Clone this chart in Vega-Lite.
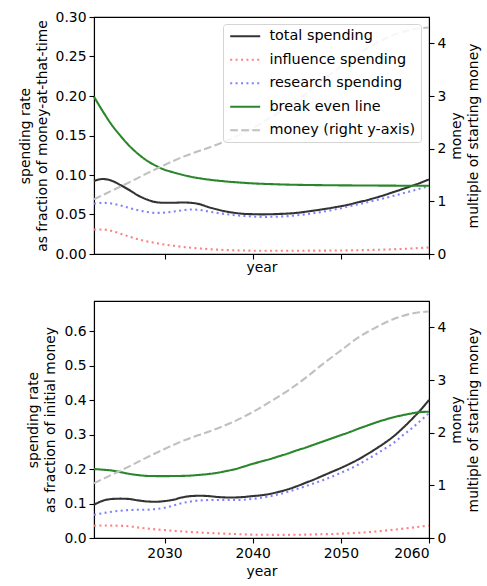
{
  "$schema": "https://vega.github.io/schema/vega-lite/v6.json",
  "autosize": {"type": "pad"},
  "padding": {"left": 17, "top": 9, "right": 4, "bottom": 4},
  "background": "white",
  "config": {
    "font": "DejaVu Sans",
    "view": {"stroke": "#000000", "strokeWidth": 1.1},
    "axis": {
      "labelFont": "DejaVu Sans", "labelFontSize": 13.9, "labelColor": "#000000",
      "titleFont": "DejaVu Sans", "titleFontSize": 13.9, "titleFontWeight": "normal", "titleColor": "#000000",
      "domainColor": "#000000", "domainWidth": 1.1, "tickColor": "#000000", "tickWidth": 1.1, "tickSize": 5,
      "grid": false, "labelPadding": 3, "titleLineHeight": 17
    },
    "legend": {
      "orient": "none", "legendX": 129, "legendY": 7,
      "fillColor": "rgba(255,255,255,0.85)", "strokeColor": "#d4d4d4", "cornerRadius": 3,
      "padding": 5, "symbolType": "M-3,0H3", "symbolSize": 100, "symbolStrokeWidth": 2.1, "symbolOffset": 10,
      "labelFont": "DejaVu Sans", "labelFontSize": 14.4, "labelColor": "#000000",
      "labelOffset": 17, "rowPadding": 8.5, "title": null
    }
  },
  "datasets": {
    "top": [
      {"year": 2022, "series": "total spending", "value": 0.0924},
      {"year": 2023, "series": "total spending", "value": 0.0949},
      {"year": 2024, "series": "total spending", "value": 0.0928},
      {"year": 2025, "series": "total spending", "value": 0.0873},
      {"year": 2026, "series": "total spending", "value": 0.081},
      {"year": 2027, "series": "total spending", "value": 0.0741},
      {"year": 2028, "series": "total spending", "value": 0.069},
      {"year": 2029, "series": "total spending", "value": 0.0657},
      {"year": 2030, "series": "total spending", "value": 0.0648},
      {"year": 2031, "series": "total spending", "value": 0.0648},
      {"year": 2032, "series": "total spending", "value": 0.0652},
      {"year": 2033, "series": "total spending", "value": 0.0648},
      {"year": 2034, "series": "total spending", "value": 0.063},
      {"year": 2035, "series": "total spending", "value": 0.0593},
      {"year": 2036, "series": "total spending", "value": 0.0563},
      {"year": 2037, "series": "total spending", "value": 0.0538},
      {"year": 2038, "series": "total spending", "value": 0.052},
      {"year": 2039, "series": "total spending", "value": 0.0508},
      {"year": 2040, "series": "total spending", "value": 0.0504},
      {"year": 2041, "series": "total spending", "value": 0.0502},
      {"year": 2042, "series": "total spending", "value": 0.0503},
      {"year": 2043, "series": "total spending", "value": 0.0507},
      {"year": 2044, "series": "total spending", "value": 0.0512},
      {"year": 2045, "series": "total spending", "value": 0.0521},
      {"year": 2046, "series": "total spending", "value": 0.0535},
      {"year": 2047, "series": "total spending", "value": 0.055},
      {"year": 2048, "series": "total spending", "value": 0.0567},
      {"year": 2049, "series": "total spending", "value": 0.0585},
      {"year": 2050, "series": "total spending", "value": 0.0605},
      {"year": 2051, "series": "total spending", "value": 0.0628},
      {"year": 2052, "series": "total spending", "value": 0.0655},
      {"year": 2053, "series": "total spending", "value": 0.0683},
      {"year": 2054, "series": "total spending", "value": 0.0714},
      {"year": 2055, "series": "total spending", "value": 0.0748},
      {"year": 2056, "series": "total spending", "value": 0.0785},
      {"year": 2057, "series": "total spending", "value": 0.0822},
      {"year": 2058, "series": "total spending", "value": 0.086},
      {"year": 2059, "series": "total spending", "value": 0.09},
      {"year": 2060, "series": "total spending", "value": 0.0945},

      {"year": 2022, "series": "influence spending", "value": 0.031},
      {"year": 2023, "series": "influence spending", "value": 0.031},
      {"year": 2024, "series": "influence spending", "value": 0.0292},
      {"year": 2025, "series": "influence spending", "value": 0.0258},
      {"year": 2026, "series": "influence spending", "value": 0.022},
      {"year": 2027, "series": "influence spending", "value": 0.0186},
      {"year": 2028, "series": "influence spending", "value": 0.016},
      {"year": 2029, "series": "influence spending", "value": 0.0139},
      {"year": 2030, "series": "influence spending", "value": 0.012},
      {"year": 2031, "series": "influence spending", "value": 0.0105},
      {"year": 2032, "series": "influence spending", "value": 0.0091},
      {"year": 2033, "series": "influence spending", "value": 0.008},
      {"year": 2034, "series": "influence spending", "value": 0.007},
      {"year": 2035, "series": "influence spending", "value": 0.0062},
      {"year": 2036, "series": "influence spending", "value": 0.0055},
      {"year": 2037, "series": "influence spending", "value": 0.005},
      {"year": 2038, "series": "influence spending", "value": 0.0046},
      {"year": 2039, "series": "influence spending", "value": 0.0044},
      {"year": 2040, "series": "influence spending", "value": 0.0042},
      {"year": 2042, "series": "influence spending", "value": 0.0041},
      {"year": 2044, "series": "influence spending", "value": 0.0041},
      {"year": 2046, "series": "influence spending", "value": 0.0042},
      {"year": 2048, "series": "influence spending", "value": 0.0043},
      {"year": 2050, "series": "influence spending", "value": 0.0045},
      {"year": 2052, "series": "influence spending", "value": 0.0048},
      {"year": 2054, "series": "influence spending", "value": 0.0053},
      {"year": 2056, "series": "influence spending", "value": 0.006},
      {"year": 2058, "series": "influence spending", "value": 0.007},
      {"year": 2060, "series": "influence spending", "value": 0.0083},

      {"year": 2022, "series": "research spending", "value": 0.0635},
      {"year": 2023, "series": "research spending", "value": 0.0648},
      {"year": 2024, "series": "research spending", "value": 0.064},
      {"year": 2025, "series": "research spending", "value": 0.0614},
      {"year": 2026, "series": "research spending", "value": 0.0583},
      {"year": 2027, "series": "research spending", "value": 0.0555},
      {"year": 2028, "series": "research spending", "value": 0.0532},
      {"year": 2029, "series": "research spending", "value": 0.052},
      {"year": 2030, "series": "research spending", "value": 0.0524},
      {"year": 2031, "series": "research spending", "value": 0.0538},
      {"year": 2032, "series": "research spending", "value": 0.0552},
      {"year": 2033, "series": "research spending", "value": 0.0563},
      {"year": 2034, "series": "research spending", "value": 0.0558},
      {"year": 2035, "series": "research spending", "value": 0.0538},
      {"year": 2036, "series": "research spending", "value": 0.052},
      {"year": 2037, "series": "research spending", "value": 0.0504},
      {"year": 2038, "series": "research spending", "value": 0.0491},
      {"year": 2039, "series": "research spending", "value": 0.0482},
      {"year": 2040, "series": "research spending", "value": 0.0474},
      {"year": 2041, "series": "research spending", "value": 0.047},
      {"year": 2042, "series": "research spending", "value": 0.0471},
      {"year": 2043, "series": "research spending", "value": 0.0474},
      {"year": 2044, "series": "research spending", "value": 0.0479},
      {"year": 2045, "series": "research spending", "value": 0.049},
      {"year": 2046, "series": "research spending", "value": 0.0503},
      {"year": 2047, "series": "research spending", "value": 0.0518},
      {"year": 2048, "series": "research spending", "value": 0.0535},
      {"year": 2049, "series": "research spending", "value": 0.0557},
      {"year": 2050, "series": "research spending", "value": 0.058},
      {"year": 2051, "series": "research spending", "value": 0.0605},
      {"year": 2052, "series": "research spending", "value": 0.063},
      {"year": 2053, "series": "research spending", "value": 0.0656},
      {"year": 2054, "series": "research spending", "value": 0.0683},
      {"year": 2055, "series": "research spending", "value": 0.0708},
      {"year": 2056, "series": "research spending", "value": 0.0737},
      {"year": 2057, "series": "research spending", "value": 0.0767},
      {"year": 2058, "series": "research spending", "value": 0.0797},
      {"year": 2059, "series": "research spending", "value": 0.0828},
      {"year": 2060, "series": "research spending", "value": 0.086},

      {"year": 2022, "series": "break even line", "value": 0.199},
      {"year": 2023, "series": "break even line", "value": 0.1806},
      {"year": 2024, "series": "break even line", "value": 0.1636},
      {"year": 2025, "series": "break even line", "value": 0.1496},
      {"year": 2026, "series": "break even line", "value": 0.137},
      {"year": 2027, "series": "break even line", "value": 0.1267},
      {"year": 2028, "series": "break even line", "value": 0.1182},
      {"year": 2029, "series": "break even line", "value": 0.1118},
      {"year": 2030, "series": "break even line", "value": 0.1067},
      {"year": 2031, "series": "break even line", "value": 0.1034},
      {"year": 2032, "series": "break even line", "value": 0.1004},
      {"year": 2033, "series": "break even line", "value": 0.0978},
      {"year": 2034, "series": "break even line", "value": 0.0958},
      {"year": 2035, "series": "break even line", "value": 0.0942},
      {"year": 2036, "series": "break even line", "value": 0.0929},
      {"year": 2037, "series": "break even line", "value": 0.0918},
      {"year": 2038, "series": "break even line", "value": 0.0909},
      {"year": 2039, "series": "break even line", "value": 0.0901},
      {"year": 2040, "series": "break even line", "value": 0.0894},
      {"year": 2042, "series": "break even line", "value": 0.0885},
      {"year": 2044, "series": "break even line", "value": 0.0878},
      {"year": 2046, "series": "break even line", "value": 0.0874},
      {"year": 2048, "series": "break even line", "value": 0.0871},
      {"year": 2050, "series": "break even line", "value": 0.0869},
      {"year": 2053, "series": "break even line", "value": 0.0867},
      {"year": 2056, "series": "break even line", "value": 0.0865},
      {"year": 2060, "series": "break even line", "value": 0.0864}
    ],
    "bottom": [
      {"year": 2022, "series": "total spending", "value": 0.0964},
      {"year": 2023, "series": "total spending", "value": 0.108},
      {"year": 2024, "series": "total spending", "value": 0.113},
      {"year": 2025, "series": "total spending", "value": 0.114},
      {"year": 2026, "series": "total spending", "value": 0.113},
      {"year": 2027, "series": "total spending", "value": 0.109},
      {"year": 2028, "series": "total spending", "value": 0.106},
      {"year": 2029, "series": "total spending", "value": 0.105},
      {"year": 2030, "series": "total spending", "value": 0.107},
      {"year": 2031, "series": "total spending", "value": 0.111},
      {"year": 2032, "series": "total spending", "value": 0.1176},
      {"year": 2033, "series": "total spending", "value": 0.1215},
      {"year": 2034, "series": "total spending", "value": 0.1225},
      {"year": 2035, "series": "total spending", "value": 0.1215},
      {"year": 2036, "series": "total spending", "value": 0.119},
      {"year": 2037, "series": "total spending", "value": 0.1176},
      {"year": 2038, "series": "total spending", "value": 0.1176},
      {"year": 2039, "series": "total spending", "value": 0.119},
      {"year": 2040, "series": "total spending", "value": 0.1215},
      {"year": 2041, "series": "total spending", "value": 0.124},
      {"year": 2042, "series": "total spending", "value": 0.128},
      {"year": 2043, "series": "total spending", "value": 0.134},
      {"year": 2044, "series": "total spending", "value": 0.141},
      {"year": 2045, "series": "total spending", "value": 0.15},
      {"year": 2046, "series": "total spending", "value": 0.16},
      {"year": 2047, "series": "total spending", "value": 0.17},
      {"year": 2048, "series": "total spending", "value": 0.181},
      {"year": 2049, "series": "total spending", "value": 0.192},
      {"year": 2050, "series": "total spending", "value": 0.203},
      {"year": 2051, "series": "total spending", "value": 0.215},
      {"year": 2052, "series": "total spending", "value": 0.228},
      {"year": 2053, "series": "total spending", "value": 0.243},
      {"year": 2054, "series": "total spending", "value": 0.259},
      {"year": 2055, "series": "total spending", "value": 0.276},
      {"year": 2056, "series": "total spending", "value": 0.295},
      {"year": 2057, "series": "total spending", "value": 0.318},
      {"year": 2058, "series": "total spending", "value": 0.343},
      {"year": 2059, "series": "total spending", "value": 0.37},
      {"year": 2060, "series": "total spending", "value": 0.4},

      {"year": 2022, "series": "influence spending", "value": 0.0355},
      {"year": 2023, "series": "influence spending", "value": 0.0362},
      {"year": 2024, "series": "influence spending", "value": 0.036},
      {"year": 2025, "series": "influence spending", "value": 0.0354},
      {"year": 2026, "series": "influence spending", "value": 0.034},
      {"year": 2027, "series": "influence spending", "value": 0.0305},
      {"year": 2028, "series": "influence spending", "value": 0.0275},
      {"year": 2029, "series": "influence spending", "value": 0.025},
      {"year": 2030, "series": "influence spending", "value": 0.023},
      {"year": 2031, "series": "influence spending", "value": 0.021},
      {"year": 2032, "series": "influence spending", "value": 0.019},
      {"year": 2033, "series": "influence spending", "value": 0.0175},
      {"year": 2034, "series": "influence spending", "value": 0.016},
      {"year": 2035, "series": "influence spending", "value": 0.0147},
      {"year": 2036, "series": "influence spending", "value": 0.0134},
      {"year": 2037, "series": "influence spending", "value": 0.0125},
      {"year": 2038, "series": "influence spending", "value": 0.0116},
      {"year": 2039, "series": "influence spending", "value": 0.0105},
      {"year": 2040, "series": "influence spending", "value": 0.0097},
      {"year": 2042, "series": "influence spending", "value": 0.0092},
      {"year": 2044, "series": "influence spending", "value": 0.0092},
      {"year": 2046, "series": "influence spending", "value": 0.0098},
      {"year": 2048, "series": "influence spending", "value": 0.011},
      {"year": 2050, "series": "influence spending", "value": 0.0125},
      {"year": 2052, "series": "influence spending", "value": 0.015},
      {"year": 2054, "series": "influence spending", "value": 0.019},
      {"year": 2056, "series": "influence spending", "value": 0.024},
      {"year": 2058, "series": "influence spending", "value": 0.03},
      {"year": 2060, "series": "influence spending", "value": 0.036},

      {"year": 2022, "series": "research spending", "value": 0.067},
      {"year": 2023, "series": "research spending", "value": 0.072},
      {"year": 2024, "series": "research spending", "value": 0.076},
      {"year": 2025, "series": "research spending", "value": 0.079},
      {"year": 2026, "series": "research spending", "value": 0.081},
      {"year": 2027, "series": "research spending", "value": 0.082},
      {"year": 2028, "series": "research spending", "value": 0.082},
      {"year": 2029, "series": "research spending", "value": 0.084},
      {"year": 2030, "series": "research spending", "value": 0.0877},
      {"year": 2031, "series": "research spending", "value": 0.094},
      {"year": 2032, "series": "research spending", "value": 0.101},
      {"year": 2033, "series": "research spending", "value": 0.106},
      {"year": 2034, "series": "research spending", "value": 0.109},
      {"year": 2035, "series": "research spending", "value": 0.11},
      {"year": 2036, "series": "research spending", "value": 0.11},
      {"year": 2037, "series": "research spending", "value": 0.11},
      {"year": 2038, "series": "research spending", "value": 0.11},
      {"year": 2039, "series": "research spending", "value": 0.111},
      {"year": 2040, "series": "research spending", "value": 0.1135},
      {"year": 2041, "series": "research spending", "value": 0.117},
      {"year": 2042, "series": "research spending", "value": 0.121},
      {"year": 2043, "series": "research spending", "value": 0.127},
      {"year": 2044, "series": "research spending", "value": 0.134},
      {"year": 2045, "series": "research spending", "value": 0.142},
      {"year": 2046, "series": "research spending", "value": 0.15},
      {"year": 2047, "series": "research spending", "value": 0.159},
      {"year": 2048, "series": "research spending", "value": 0.168},
      {"year": 2049, "series": "research spending", "value": 0.178},
      {"year": 2050, "series": "research spending", "value": 0.189},
      {"year": 2051, "series": "research spending", "value": 0.2},
      {"year": 2052, "series": "research spending", "value": 0.213},
      {"year": 2053, "series": "research spending", "value": 0.228},
      {"year": 2054, "series": "research spending", "value": 0.243},
      {"year": 2055, "series": "research spending", "value": 0.259},
      {"year": 2056, "series": "research spending", "value": 0.276},
      {"year": 2057, "series": "research spending", "value": 0.297},
      {"year": 2058, "series": "research spending", "value": 0.317},
      {"year": 2059, "series": "research spending", "value": 0.339},
      {"year": 2060, "series": "research spending", "value": 0.362},

      {"year": 2022, "series": "break even line", "value": 0.2},
      {"year": 2023, "series": "break even line", "value": 0.198},
      {"year": 2024, "series": "break even line", "value": 0.1957},
      {"year": 2025, "series": "break even line", "value": 0.191},
      {"year": 2026, "series": "break even line", "value": 0.186},
      {"year": 2027, "series": "break even line", "value": 0.1825},
      {"year": 2028, "series": "break even line", "value": 0.18},
      {"year": 2029, "series": "break even line", "value": 0.1795},
      {"year": 2030, "series": "break even line", "value": 0.1794},
      {"year": 2031, "series": "break even line", "value": 0.1796},
      {"year": 2032, "series": "break even line", "value": 0.18},
      {"year": 2033, "series": "break even line", "value": 0.181},
      {"year": 2034, "series": "break even line", "value": 0.183},
      {"year": 2035, "series": "break even line", "value": 0.1855},
      {"year": 2036, "series": "break even line", "value": 0.189},
      {"year": 2037, "series": "break even line", "value": 0.194},
      {"year": 2038, "series": "break even line", "value": 0.1996},
      {"year": 2039, "series": "break even line", "value": 0.207},
      {"year": 2040, "series": "break even line", "value": 0.215},
      {"year": 2041, "series": "break even line", "value": 0.222},
      {"year": 2042, "series": "break even line", "value": 0.229},
      {"year": 2043, "series": "break even line", "value": 0.237},
      {"year": 2044, "series": "break even line", "value": 0.245},
      {"year": 2045, "series": "break even line", "value": 0.254},
      {"year": 2046, "series": "break even line", "value": 0.262},
      {"year": 2047, "series": "break even line", "value": 0.271},
      {"year": 2048, "series": "break even line", "value": 0.28},
      {"year": 2049, "series": "break even line", "value": 0.289},
      {"year": 2050, "series": "break even line", "value": 0.298},
      {"year": 2051, "series": "break even line", "value": 0.307},
      {"year": 2052, "series": "break even line", "value": 0.317},
      {"year": 2053, "series": "break even line", "value": 0.326},
      {"year": 2054, "series": "break even line", "value": 0.335},
      {"year": 2055, "series": "break even line", "value": 0.343},
      {"year": 2056, "series": "break even line", "value": 0.35},
      {"year": 2057, "series": "break even line", "value": 0.356},
      {"year": 2058, "series": "break even line", "value": 0.361},
      {"year": 2059, "series": "break even line", "value": 0.365},
      {"year": 2060, "series": "break even line", "value": 0.366}
    ],
    "money": [
      {"year": 2022, "series": "money (right y-axis)", "money": 1.04},
      {"year": 2024, "series": "money (right y-axis)", "money": 1.2},
      {"year": 2026, "series": "money (right y-axis)", "money": 1.36},
      {"year": 2028, "series": "money (right y-axis)", "money": 1.53},
      {"year": 2030, "series": "money (right y-axis)", "money": 1.69},
      {"year": 2032, "series": "money (right y-axis)", "money": 1.84},
      {"year": 2034, "series": "money (right y-axis)", "money": 1.96},
      {"year": 2036, "series": "money (right y-axis)", "money": 2.08},
      {"year": 2038, "series": "money (right y-axis)", "money": 2.22},
      {"year": 2040, "series": "money (right y-axis)", "money": 2.39},
      {"year": 2042, "series": "money (right y-axis)", "money": 2.59},
      {"year": 2044, "series": "money (right y-axis)", "money": 2.8},
      {"year": 2046, "series": "money (right y-axis)", "money": 3.04},
      {"year": 2048, "series": "money (right y-axis)", "money": 3.31},
      {"year": 2050, "series": "money (right y-axis)", "money": 3.56},
      {"year": 2052, "series": "money (right y-axis)", "money": 3.81},
      {"year": 2054, "series": "money (right y-axis)", "money": 4.0},
      {"year": 2056, "series": "money (right y-axis)", "money": 4.16},
      {"year": 2058, "series": "money (right y-axis)", "money": 4.26},
      {"year": 2060, "series": "money (right y-axis)", "money": 4.3}
    ]
  },
  "bounds": "flush",
  "spacing": 47,
  "resolve": {
    "scale": {"color": "independent", "strokeDash": "independent"},
    "legend": {"color": "independent", "strokeDash": "independent"}
  },
  "vconcat": [
    {
      "width": 335,
      "height": 237,
      "layer": [
        {
          "data": {"name": "top"},
          "mark": {"type": "line", "strokeWidth": 2.1, "interpolate": "monotone"},
          "encoding": {
            "x": {"field": "year", "type": "quantitative",
              "scale": {"domain": [2022, 2060], "nice": false, "zero": false},
              "axis": {"values": [2030, 2040, 2050, 2060], "labels": false, "title": "year", "titlePadding": 1}},
            "y": {"field": "value", "type": "quantitative",
              "scale": {"domain": [0, 0.3], "nice": false, "zero": false},
              "axis": {"values": [0, 0.05, 0.1, 0.15, 0.2, 0.25, 0.3], "format": ".2f",
                "title": ["spending rate", "as fraction of money-at-that-time"], "titlePadding": 6}},
            "color": {"field": "series", "type": "nominal",
              "scale": {"domain": ["total spending", "influence spending", "research spending", "break even line", "money (right y-axis)"],
                "range": ["#333333", "#ff8080", "#8080ff", "#2a862a", "#c0c0c0"]}},
            "strokeDash": {"field": "series", "type": "nominal",
              "scale": {"domain": ["total spending", "influence spending", "research spending", "break even line", "money (right y-axis)"],
                "range": [[1, 0], [2, 3.4], [2, 3.4], [1, 0], [7.7, 3.3]]}}
          }
        },
        {
          "data": {"name": "money"},
          "mark": {"type": "line", "strokeWidth": 2.1, "interpolate": "monotone"},
          "encoding": {
            "x": {"field": "year", "type": "quantitative"},
            "y": {"field": "money", "type": "quantitative",
              "scale": {"domain": [0, 4.5], "nice": false, "zero": false},
              "axis": {"orient": "right", "values": [0, 1, 2, 3, 4], "format": "d",
                "title": ["money", "multiple of starting money"], "titleAngle": 270, "titleBaseline": "top", "titlePadding": -13}},
            "color": {"field": "series", "type": "nominal"},
            "strokeDash": {"field": "series", "type": "nominal"}
          }
        }
      ],
      "resolve": {"scale": {"y": "independent"}}
    },
    {
      "width": 335,
      "height": 237,
      "layer": [
        {
          "data": {"name": "bottom"},
          "mark": {"type": "line", "strokeWidth": 2.1, "interpolate": "monotone"},
          "encoding": {
            "x": {"field": "year", "type": "quantitative",
              "scale": {"domain": [2022, 2060], "nice": false, "zero": false},
              "axis": {"values": [2030, 2040, 2050, 2060], "format": "d", "title": "year", "titlePadding": 5}},
            "y": {"field": "value", "type": "quantitative",
              "scale": {"domain": [0, 0.687], "nice": false, "zero": false},
              "axis": {"values": [0, 0.1, 0.2, 0.3, 0.4, 0.5, 0.6], "format": ".1f",
                "title": ["spending rate", "as fraction of initial money"], "titlePadding": 6}},
            "color": {"field": "series", "type": "nominal",
              "scale": {"domain": ["total spending", "influence spending", "research spending", "break even line", "money (right y-axis)"],
                "range": ["#333333", "#ff8080", "#8080ff", "#2a862a", "#c0c0c0"]}, "legend": null},
            "strokeDash": {"field": "series", "type": "nominal",
              "scale": {"domain": ["total spending", "influence spending", "research spending", "break even line", "money (right y-axis)"],
                "range": [[1, 0], [2, 3.4], [2, 3.4], [1, 0], [7.7, 3.3]]}, "legend": null}
          }
        },
        {
          "data": {"name": "money"},
          "mark": {"type": "line", "strokeWidth": 2.1, "interpolate": "monotone"},
          "encoding": {
            "x": {"field": "year", "type": "quantitative"},
            "y": {"field": "money", "type": "quantitative",
              "scale": {"domain": [0, 4.5], "nice": false, "zero": false},
              "axis": {"orient": "right", "values": [0, 1, 2, 3, 4], "format": "d",
                "title": ["money", "multiple of starting money"], "titleAngle": 270, "titleBaseline": "top", "titlePadding": -13}},
            "color": {"field": "series", "type": "nominal", "legend": null},
            "strokeDash": {"field": "series", "type": "nominal", "legend": null}
          }
        }
      ],
      "resolve": {"scale": {"y": "independent"}}
    }
  ]
}
